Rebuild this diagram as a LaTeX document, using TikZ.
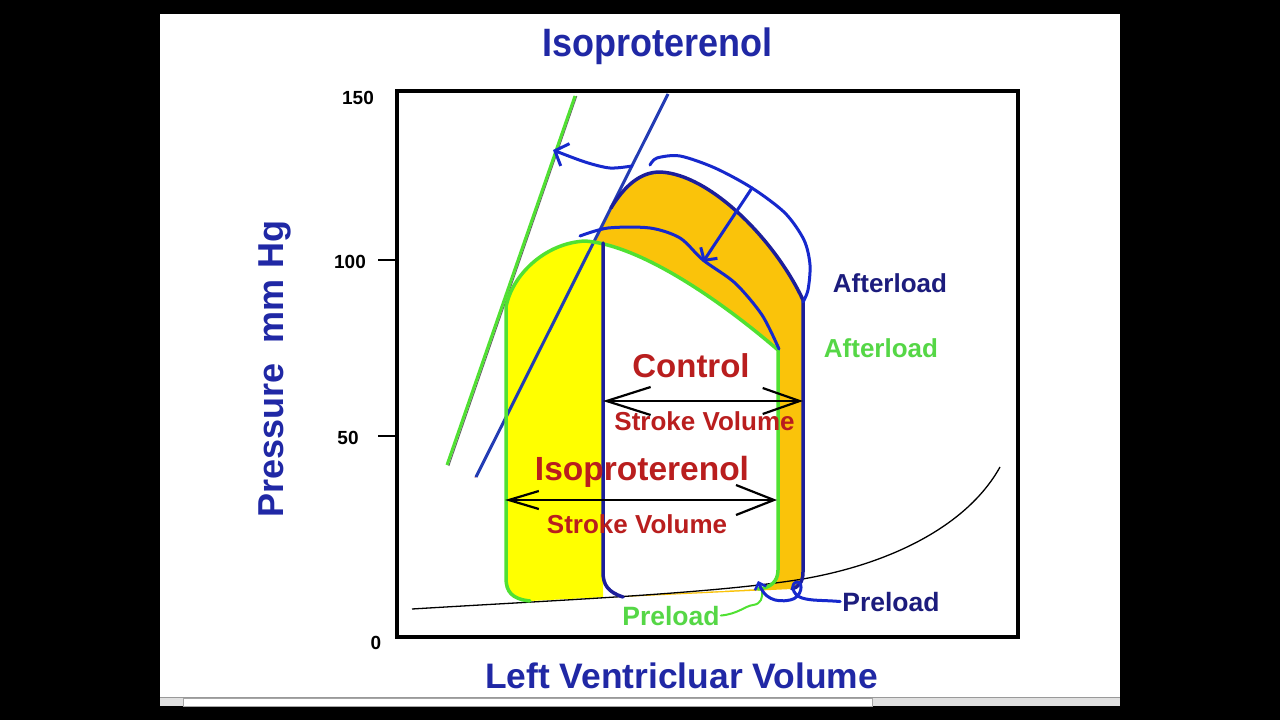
\documentclass[tikz,border=0pt]{standalone}
\usepackage{fontspec}
\setmainfont{Liberation Sans}
\usetikzlibrary{arrows.meta}
\definecolor{titleblue}{RGB}{32,40,165}
\definecolor{darkblue}{RGB}{28,28,125}
\definecolor{loopblue}{RGB}{28,30,155}
\definecolor{penblue}{RGB}{22,40,205}
\definecolor{lineblue}{RGB}{35,60,180}
\definecolor{greenc}{RGB}{80,225,50}
\definecolor{greentxt}{RGB}{85,215,70}
\definecolor{redtxt}{RGB}{185,30,30}
\definecolor{orangec}{RGB}{250,195,10}
\definecolor{yellowc}{RGB}{255,255,0}
\newcommand\fsz[1]{\fontsize{#1}{#1}\selectfont\bfseries}
\newcommand\vstretch[1]{\scalebox{1}[1.1]{#1}}
\begin{document}
\begin{tikzpicture}[x=1pt,y=-1pt,
  txt/.style={inner sep=0pt,anchor=base},
  tick/.style={txt,font=\fsz{19},text=black},
  svarrow/.style={draw=black,line width=2.2},
  penline/.style={draw=penblue,line width=3,line cap=round,line join=round},
  loopline/.style={draw=loopblue,line width=3.5,line cap=round,line join=round},
  greenline/.style={draw=greenc,line width=3.5,line cap=round,line join=round}]
\useasboundingbox (0,0) rectangle (1280,720);
% background
\fill[black] (0,0) rectangle (1280,720);
\fill[white] (160,14) rectangle (1120,697);
\fill[black!12] (160,697) rectangle (1120,706);
\draw[black!40,line width=0.8] (160,697.5) -- (1120,697.5);
\fill[white,draw=black!35,line width=0.6] (183,698.5) rectangle (872,706);
% orange region (control loop top + strip)
\fill[orangec] (603,580) -- (603,245) -- (592,245) -- (611,208)
  .. controls (628,180) and (645,172) .. (660,172)
  .. controls (710,174) and (775,240) .. (803,300) -- (803,572)
  .. controls (803,583) and (798,587) .. (792,589) -- (623,597) -- cycle;
% interior of isoproterenol loop
\fill[white] (530,601) .. controls (512,599) and (506,592) .. (506,578) -- (506,307)
  .. controls (512,275) and (545,243) .. (585,241)
  .. controls (640,245) and (720,300) .. (778,350) -- (778,570)
  .. controls (778,582) and (770,588) .. (758,589) -- cycle;
\begin{scope}
\clip (0,0) rectangle (603,720);
\fill[yellowc] (530,601) .. controls (512,599) and (506,592) .. (506,578) -- (506,307)
  .. controls (512,275) and (545,243) .. (585,241)
  .. controls (640,245) and (720,300) .. (778,350) -- (778,570)
  .. controls (778,582) and (770,588) .. (758,589) -- cycle;
\end{scope}
% frame and ticks
\draw[line width=4] (397,91) rectangle (1018,637);
\draw[line width=2] (378,260) -- (397,260);
\draw[line width=2] (378,436) -- (397,436);
% EDPVR
\draw[black,line width=1.3] (412,609) .. controls (560,600) and (700,594) .. (790,581)
  .. controls (880,568) and (965,530) .. (1000,467);
% ESPVR lines
\draw[black!60,line width=1] (448.8,466) -- (576.8,96);
\draw[greenc,line width=3] (447,465) -- (575,96);
\draw[red!60!black,line width=0.8] (475,477.5) -- (548,333);
\draw[lineblue,line width=3] (476,477) -- (668,94);
% isoproterenol loop outline (green)
\draw[greenline] (530,601) .. controls (512,599) and (506,592) .. (506,578) -- (506,307)
  .. controls (512,275) and (545,243) .. (585,241)
  .. controls (640,245) and (720,300) .. (778,350) -- (778,570)
  .. controls (778,582) and (770,588) .. (758,589);
% control loop outline (blue)
\draw[loopline] (623,597) .. controls (608,592) and (603,585) .. (603,572) -- (603,243);
\draw[loopline] (611,208) .. controls (628,180) and (645,172) .. (660,172)
  .. controls (710,174) and (775,240) .. (803,300) -- (803,572)
  .. controls (803,583) and (798,587) .. (792,589);
% hand drawn annotations
\draw[penline] plot[smooth] coordinates {(580,236) (608,228) (650,228) (680,238) (703,260) (735,283) (762,315) (779,349)};
\draw[penline] plot[smooth] coordinates {(650,165) (657,158) (680,156) (715,168) (752,188) (785,213) (804,240) (810,265) (808,290) (803,302)};
\coordinate (brk) at (752,188);
\coordinate (inner) at (703,262);
\draw[penline,-{Straight Barb[length=9,width=20,line width=3]}] (brk) -- (inner);
\draw[penline,-{Straight Barb[length=11,width=24,line width=3]}] plot[smooth] coordinates {(632,166) (610,168) (585,162) (553,150)};
% stroke volume arrows
\coordinate (c1) at (603,401);
\coordinate (c2) at (803,401);
\coordinate (i1) at (505,500);
\coordinate (i2) at (777,500);
\draw[svarrow,{Straight Barb[length=44,width=28,line width=2.2]}-{Straight Barb[length=37,width=26,line width=2.2]}] (c1) -- (c2);
\draw[svarrow,{Straight Barb[length=30,width=18,line width=2.2]}-{Straight Barb[length=38,width=30,line width=2.2]}] (i1) -- (i2);
% texts
\node[txt,font=\fsz{36},text=titleblue] (title) at (657.5,56) {\vstretch{Isoproterenol}};
\node[txt,font=\fsz{35.4},text=titleblue] (xlab) at (681.5,688) {Left Ventricluar Volume};
\node[txt,font=\fsz{36},text=titleblue,rotate=90] (ylab) at (283,369) {Pressure\ \ mm Hg};
\node[tick] (t150) at (358,104) {150};
\node[tick] (t100) at (350,268) {100};
\node[tick] (t50) at (348,444) {50};
\node[tick] (t0) at (376,649) {0};
\node[txt,font=\fsz{26},text=darkblue] (aftB) at (890,292) {Afterload};
\node[txt,font=\fsz{26},text=greentxt] (aftG) at (881,357) {Afterload};
\node[txt,font=\fsz{33},text=redtxt] (ctrl) at (691,377) {Control};
\node[txt,font=\fsz{26},text=redtxt] (sv1) at (704.5,430) {Stroke Volume};
\node[txt,font=\fsz{33.5},text=redtxt] (iso) at (642,480) {Isoproterenol};
\node[txt,font=\fsz{26},text=redtxt] (sv2) at (637,533) {Stroke Volume};
\node[txt,font=\fsz{26.5},text=greentxt] (preG) at (671,625) {Preload};
\node[txt,font=\fsz{26.5},text=darkblue] (preB) at (891,611) {Preload};
% preload connectors
\coordinate (gcorner) at (762,590);
\coordinate (bcorner) at (758,581);
\draw[greenc,line width=2,line cap=round] ([xshift=1]preG.east) .. controls (738,614) and (745,606) .. (753,605) .. controls (761,604) and (763,598) .. (gcorner);
\draw[penline,-{Straight Barb[length=6,width=12,line width=2.5]}] ([xshift=-2]preB.west) .. controls (822,600) and (812,601) .. (802,598)
  .. controls (792,595) and (790,583) .. (797,582)
  .. controls (804,582) and (802,598) .. (790,600)
  .. controls (775,603) and (764,598) .. (bcorner);
\end{tikzpicture}
\end{document}
